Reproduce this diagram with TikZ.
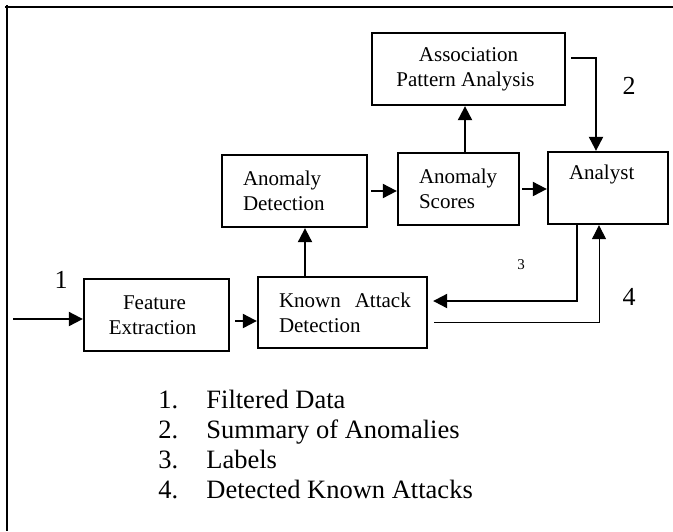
\documentclass[tikz,border=0pt]{standalone}
\usepackage{fontspec}
\setmainfont{Liberation Serif}
\usetikzlibrary{arrows.meta}

\begin{document}
\begin{tikzpicture}[x=0.5pt, y=-0.5pt]
 % --- 各パーツのスタイルを定義 ---
 \tikzset{
    block/.style={
        rectangle,
        draw,
        line width=1.15pt,
        inner sep=0pt,
        minimum height=36pt,
        font=\fontsize{10.5}{12.5}\selectfont
    },
    leftblock/.style={
        block,
        inner xsep=10.5pt,
        align=left,
        text width=#1
    },
    arr/.style={
        line width=1pt,
        -{Triangle[length=7pt, width=7pt]}
    },
    flow/.style={
        font=\fontsize{13}{15}\selectfont
    },
    legend/.style={
        anchor=base west,
        inner sep=0pt,
        font=\fontsize{13.25}{15}\selectfont
    }
 }

 % --- 枠と範囲 ---
 \useasboundingbox (0,0) rectangle (673,531);
 \draw[line width=1pt] (5,7) -- (673,7);
 \draw[line width=1pt] (7,5) -- (7,531);

 % --- ブロックを配置 ---
 \node[block, minimum width=96.5pt, align=center] (Assoc) at (468.5,69) {Association\\Pattern Analysis\hspace*{3pt}};
 \node[leftblock=51.5pt] (AnoDet) at (294.5,191) {Anomaly\\Detection};
 \node[leftblock=39.5pt] (Scores) at (458.5,189) {Anomaly\\Scores};
 \node[leftblock=39pt] (Analyst) at (608,188) {Analyst\\\strut};
 \node[block, minimum width=72.5pt, align=center] (FeatEx) at (156.5,315) {Feature\hspace*{2pt}\\Extraction\hspace*{4pt}};
 \node[leftblock=63.5pt, minimum height=35.5pt] (Known) at (342.5,312.5) {\mbox{Known~~Attack}\\Detection};

 % --- 入力 ---
 \coordinate (In) at (13,319);
 \draw[arr] (In) -- (In -| FeatEx.west);

 % --- 結合線を描画 ---
 \draw[arr] ([xshift=2.5pt, yshift=-3pt]FeatEx.east) -- ([yshift=-3pt]FeatEx.east -| Known.west);
 \draw[arr] ([xshift=-18.75pt]Known.north) -- ([xshift=-18.75pt]Known.north |- AnoDet.south);
 \draw[arr] ([xshift=1.5pt]AnoDet.east) -- (AnoDet.east -| Scores.west);
 \draw[arr] ([xshift=1pt]Scores.east) -- (Scores.east -| Analyst.west);
 \draw[arr] ([xshift=3.25pt]Scores.north) -- ([xshift=3.25pt]Scores.north |- Assoc.south);

 % 要約 (2)
 \draw[arr] ([xshift=2.5pt, yshift=5.5pt]Assoc.east) -| ([xshift=-6pt]Analyst.north);
 % ラベル (3)
 \draw[arr] ([xshift=-15.5pt]Analyst.south) |- ([xshift=2.5pt, yshift=5.75pt]Known.east);
 % 既知の攻撃 (4)
 \draw[line width=0.5pt, -{Triangle[length=7pt, width=7pt]}] ([xshift=3pt, yshift=-4.75pt]Known.east) -| ([xshift=-4.5pt]Analyst.south);

 % --- 番号 ---
 \node[flow] (N1) at (61,280) {1};
 \node[flow] (N2) at (629,86) {2};
 \node[font=\fontsize{7.5}{9}\selectfont] (N3) at (521,265) {3};
 \node[flow] (N4) at (629,297) {4};

 % --- 凡例 ---
 \foreach \n/\t [count=\i] in {1/Filtered Data, 2/Summary of Anomalies, 3/Labels, 4/Detected Known Attacks} {
    \node[legend] (Num\i) at (158, 378+30*\i) {\n.};
    \node[legend] (Leg\i) at (206, 378+30*\i) {\t};
 }
\end{tikzpicture}
\end{document}
